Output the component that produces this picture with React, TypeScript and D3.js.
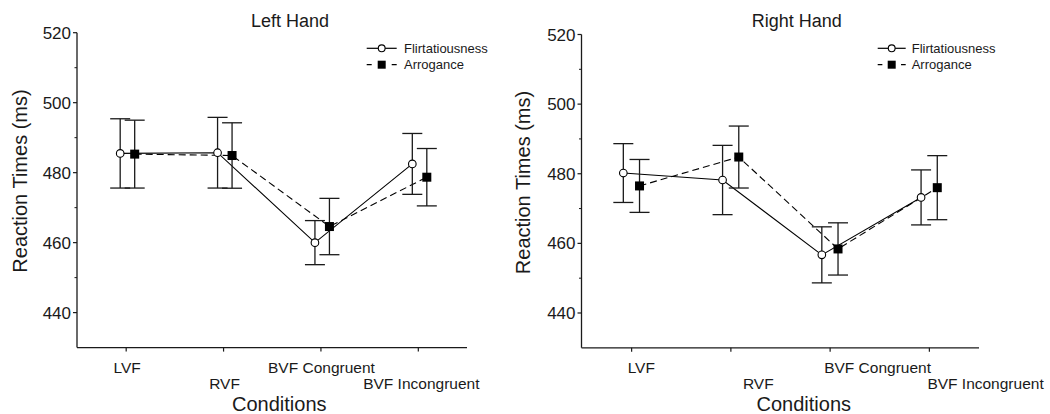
import React from "react";
import * as d3 from "d3";

const categories = ["LVF", "RVF", "BVF Congruent", "BVF Incongruent"];
const seriesNames = ["Flirtatiousness", "Arrogance"];
const yTicks = [440, 460, 480, 500, 520];
const yMinorTicks = [450, 470, 490, 510];

const leftFlirt = [485.5, 485.7, 460.0, 482.5];
const leftFlirtErr = [9.9, 10.1, 6.3, 8.7];
const leftArrog = [485.3, 484.9, 464.6, 478.7];
const leftArrogErr = [9.7, 9.35, 8.05, 8.2];

const rightFlirt = [480.2, 478.2, 456.7, 473.2];
const rightFlirtErr = [8.45, 9.95, 8.05, 7.9];
const rightArrog = [476.5, 484.8, 458.4, 476.0];
const rightArrogErr = [7.6, 8.9, 7.5, 9.2];

const FONT = "'Liberation Sans', Arial, Helvetica, sans-serif";
const INK = "#1a1a1a";

type PanelCfg = {
  title: string;
  flirt: number[];
  flirtErr: number[];
  arrog: number[];
  arrogErr: number[];
  x0: number;
  x1: number;
  yTop: number;
  yBot: number;
  titleX: number;
  condX: number;
  yLabelX: number;
  yLabelY: number;
  legendX: number;
  legendLen: number;
  legendGap: number;
  offsets: [number, number];
  labelAnchor: "middle" | "start";
  labelDx: number[];
};

const panels: PanelCfg[] = [
  {
    title: "Left Hand",
    flirt: leftFlirt,
    flirtErr: leftFlirtErr,
    arrog: leftArrog,
    arrogErr: leftArrogErr,
    x0: 77.5,
    x1: 467,
    yTop: 32.7,
    yBot: 347.6,
    titleX: 290,
    condX: 279.3,
    yLabelX: 20,
    yLabelY: 181,
    legendX: 366.7,
    legendLen: 30,
    legendGap: 7.3,
    offsets: [-6, 8.5],
    labelAnchor: "middle",
    labelDx: [1, 1, 0.5, 3],
  },
  {
    title: "Right Hand",
    flirt: rightFlirt,
    flirtErr: rightFlirtErr,
    arrog: rightArrog,
    arrogErr: rightArrogErr,
    x0: 582,
    x1: 979,
    yTop: 34.5,
    yBot: 347.8,
    titleX: 796.7,
    condX: 803.8,
    yLabelX: 522.5,
    yLabelY: 182.5,
    legendX: 877.7,
    legendLen: 28,
    legendGap: 6,
    offsets: [-8.3, 7.9],
    labelAnchor: "start",
    labelDx: [-4, 12, -6, -2],
  },
];

function Panel({ p }: { p: PanelCfg }) {
  const x = d3.scaleBand<string>().domain(categories).range([p.x0, p.x1]).paddingInner(0).paddingOuter(0);
  const y = d3.scaleLinear().domain([430, 520]).range([p.yBot, p.yTop]);
  const cx = (c: string) => (x(c) as number) + x.bandwidth() / 2;
  const capHalf = 10;
  const sq = 9;

  const series = [
    { name: seriesNames[0], vals: p.flirt, errs: p.flirtErr, off: p.offsets[0], dash: undefined as string | undefined },
    { name: seriesNames[1], vals: p.arrog, errs: p.arrogErr, off: p.offsets[1], dash: "7,4" },
  ];

  const line = d3
    .line<{ c: string; v: number; off: number }>()
    .x((d) => cx(d.c) + d.off)
    .y((d) => y(d.v));

  const axisX = p.x0 - 0.5;
  const legendY = [48.3, 64.7];

  return (
    <g>
      {/* title */}
      <text x={p.titleX} y={26.5} textAnchor="middle" fontFamily={FONT} fontSize={18} fill={INK}>
        {p.title}
      </text>

      {/* y axis */}
      <line x1={axisX} x2={axisX} y1={y(520)} y2={y(430)} stroke={INK} strokeWidth={1.3} />
      {yTicks.map((t) => (
        <g key={t}>
          <line x1={axisX - 4} x2={axisX} y1={y(t)} y2={y(t)} stroke={INK} strokeWidth={1.2} />
          <text
            x={axisX - 6}
            y={y(t)}
            dy="0.36em"
            textAnchor="end"
            fontFamily={FONT}
            fontSize={17}
            fill={INK}
          >
            {t}
          </text>
        </g>
      ))}
      {yMinorTicks.map((t) => (
        <line key={t} x1={axisX - 2.5} x2={axisX} y1={y(t)} y2={y(t)} stroke={INK} strokeWidth={1} />
      ))}
      <text
        transform={`translate(${p.yLabelX},${p.yLabelY}) rotate(-90)`}
        textAnchor="middle"
        dy="0.35em"
        fontFamily={FONT}
        fontSize={20}
        fill={INK}
      >
        Reaction Times (ms)
      </text>

      {/* x axis */}
      <line x1={axisX} x2={p.x1} y1={y(430)} y2={y(430)} stroke={INK} strokeWidth={1.3} />
      {categories.map((c, i) => (
        <g key={c}>
          <line x1={cx(c)} x2={cx(c)} y1={y(430)} y2={y(430) + 4} stroke={INK} strokeWidth={1.2} />
          <text
            x={cx(c) + p.labelDx[i]}
            y={i % 2 === 0 ? 372.5 : 388.5}
            textAnchor={p.labelAnchor}
            fontFamily={FONT}
            fontSize={15.5}
            fill={INK}
          >
            {c}
          </text>
        </g>
      ))}
      <text x={p.condX} y={411} textAnchor="middle" fontFamily={FONT} fontSize={20} fill={INK}>
        Conditions
      </text>

      {/* lines */}
      {series.map((s) => (
        <path
          key={s.name + "line"}
          d={line(categories.map((c, i) => ({ c, v: s.vals[i], off: s.off }))) as string}
          fill="none"
          stroke="#000"
          strokeWidth={1.1}
          strokeDasharray={s.dash}
        />
      ))}

      {/* error bars */}
      {series.map((s) =>
        categories.map((c, i) => {
          const px = cx(c) + s.off;
          const top = y(s.vals[i] + s.errs[i]);
          const bot = y(s.vals[i] - s.errs[i]);
          return (
            <g key={s.name + c + "err"} stroke={INK} strokeWidth={1.3}>
              <line x1={px} x2={px} y1={top} y2={bot} />
              <line x1={px - capHalf} x2={px + capHalf} y1={top} y2={top} />
              <line x1={px - capHalf} x2={px + capHalf} y1={bot} y2={bot} />
            </g>
          );
        })
      )}

      {/* markers */}
      {categories.map((c, i) => (
        <circle
          key={c + "circ"}
          cx={cx(c) + series[0].off}
          cy={y(series[0].vals[i])}
          r={3.8}
          fill="#fff"
          stroke="#000"
          strokeWidth={1.1}
        />
      ))}
      {categories.map((c, i) => (
        <rect
          key={c + "sq"}
          x={cx(c) + series[1].off - sq / 2}
          y={y(series[1].vals[i]) - sq / 2}
          width={sq}
          height={sq}
          fill="#000"
        />
      ))}

      {/* legend */}
      <g>
        <line
          x1={p.legendX}
          x2={p.legendX + p.legendLen}
          y1={legendY[0]}
          y2={legendY[0]}
          stroke="#000"
          strokeWidth={1.2}
        />
        <circle cx={p.legendX + p.legendLen / 2} cy={legendY[0]} r={3.4} fill="#fff" stroke="#000" strokeWidth={1.1} />
        <text
          x={p.legendX + p.legendLen + p.legendGap}
          y={legendY[0]}
          dy="0.36em"
          fontFamily={FONT}
          fontSize={13}
          fill={INK}
        >
          {seriesNames[0]}
        </text>
        <line
          x1={p.legendX}
          x2={p.legendX + p.legendLen}
          y1={legendY[1]}
          y2={legendY[1]}
          stroke="#000"
          strokeWidth={1.2}
          strokeDasharray={`${p.legendLen / 6},${(p.legendLen * 4) / 6},${p.legendLen / 6}`}
        />
        <rect
          x={p.legendX + p.legendLen / 2 - 4}
          y={legendY[1] - 4}
          width={8}
          height={8}
          fill="#000"
        />
        <text
          x={p.legendX + p.legendLen + p.legendGap}
          y={legendY[1]}
          dy="0.36em"
          fontFamily={FONT}
          fontSize={13}
          fill={INK}
        >
          {seriesNames[1]}
        </text>
      </g>
    </g>
  );
}

export default function App() {
  return (
    <svg
      width={1050}
      height={414}
      viewBox="0 0 1050 414"
      style={{ position: "absolute", left: 0, top: 0, background: "#fff" }}
    >
      <rect width={1050} height={414} fill="#fff" />
      {panels.map((p) => (
        <Panel key={p.title} p={p} />
      ))}
    </svg>
  );
}
